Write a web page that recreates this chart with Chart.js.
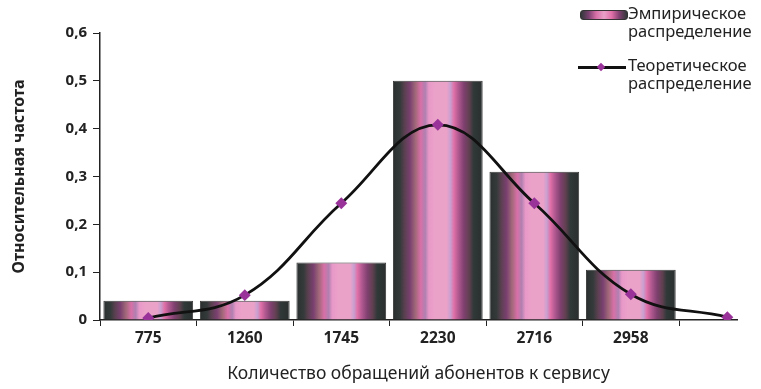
<!DOCTYPE html>
<html>
<head>
<meta charset="utf-8">
<script src="https://cdn.jsdelivr.net/npm/chart.js@4.4.1/dist/chart.umd.min.js"></script>
<style>
  html, body { margin: 0; padding: 0; background: #fff; }
  #wrap { position: relative; width: 761px; height: 389px; }
  #legend { position: absolute; left: 578px; top: 4px; font-family: "Noto Sans", sans-serif; font-size: 16.5px; line-height: 18px; color: #222; }
  .item { position: relative; padding-left: 50px; margin-bottom: 16px; }
  .sw { position: absolute; left: 2px; top: 6px; width: 46px; height: 8px; border: 1px solid #333; border-radius: 3px;
        background: linear-gradient(90deg, #303838, #7a4070, #d870a8, #e8a0c8, #e070a8, #804070, #303838); }
  .ln { position: absolute; left: 0; top: 10px; width: 48px; height: 2.5px; background: #111; }
  .pt { position: absolute; left: 20px; top: 8px; width: 6px; height: 6px; background: #993399; transform: rotate(45deg); }
</style>
</head>
<body>
<div id="wrap">
  <canvas id="chart" width="761" height="389"></canvas>
  <div id="legend">
    <div class="item"><span class="sw"></span>Эмпирическое<br>распределение</div>
    <div class="item"><span class="ln"></span><span class="pt"></span>Теоретическое<br>распределение</div>
  </div>
</div>
<script>
// categories and values
const categories = ['775', '1260', '1745', '2230', '2716', '2958'];
const empirical = [0.04, 0.04, 0.12, 0.5, 0.31, 0.105];
const theoretical = [0.004, 0.052, 0.244, 0.408, 0.244, 0.054, 0.006];
const yTicks = [0, 0.1, 0.2, 0.3, 0.4, 0.5, 0.6];

// stripes across each bar (dark edges, pink middle)
const stripes = [
    [0, '#2a2e2e'], [0.08, '#343a3a'], [0.13, '#5a4050'], [0.19, '#7a4070'],
    [0.25, '#a06878'], [0.31, '#d870a8'], [0.36, '#b080b0'], [0.40, '#e898c8'],
    [0.47, '#eba2c9'], [0.60, '#eba2c9'], [0.64, '#c8a0d0'], [0.68, '#e070a8'],
    [0.73, '#b05890'], [0.79, '#804070'], [0.85, '#604050'], [0.90, '#303838'], [1, '#2a2e2e']
];

const BAR_FRACTION = 0.93;

function barFill(context) {
    const chart = context.chart;
    if (!chart.chartArea) return '#e080b0';
    const xs = chart.scales.x;
    const step = xs.getPixelForValue(1) - xs.getPixelForValue(0);
    const cx = xs.getPixelForValue(context.dataIndex);
    const half = step * BAR_FRACTION / 2;
    const g = chart.ctx.createLinearGradient(cx - half, 0, cx + half, 0);
    stripes.forEach(([p, c]) => g.addColorStop(p, c));
    return g;
}

const fmt = v => v === 0 ? '0' : v.toFixed(1).replace('.', ',');

new Chart(document.getElementById('chart'), {
    type: 'bar',
    data: {
        datasets: [
            {
                type: 'line',
                label: 'Теоретическое распределение',
                data: theoretical.map((v, i) => ({ x: i, y: v })),
                borderColor: '#111',
                borderWidth: 2.8,
                tension: 0.4,
                pointStyle: 'rectRot',
                pointRadius: 4,
                pointBackgroundColor: '#993399',
                pointBorderColor: '#993399',
                order: 0
            },
            {
                label: 'Эмпирическое распределение',
                data: empirical.map((v, i) => ({ x: i, y: v })),
                backgroundColor: barFill,
                borderColor: '#3a3a3a',
                borderWidth: 1,
                // tick marks sit at half steps, so the min spacing the ruler sees is half a category
                barPercentage: BAR_FRACTION * 2,
                categoryPercentage: 1,
                order: 1
            }
        ]
    },
    options: {
        responsive: false,
        animation: false,
        layout: { padding: { top: 33, right: 24, left: 0, bottom: 0 } },
        plugins: { legend: { display: false }, tooltip: { enabled: false } },
        scales: {
            x: {
                type: 'linear',
                offset: false,
                min: -0.5,
                max: 6.1,
                afterBuildTicks: axis => {
                    const t = [];
                    for (let i = 0; i < 6; i++) { t.push({ value: i - 0.5 }); t.push({ value: i }); }
                    t.push({ value: 5.5 });
                    axis.ticks = t;
                },
                afterFit: axis => { axis.height = 69; },
                ticks: {
                    autoSkip: false,
                    maxRotation: 0,
                    padding: 3,
                    color: '#222',
                    font: { family: 'Noto Sans', size: 15.5, weight: 'bold' },
                    callback: v => Number.isInteger(v) ? (categories[v] || '') : ''
                },
                grid: {
                    offset: false,
                    drawOnChartArea: false,
                    tickLength: 6,
                    tickColor: ctx => (ctx.tick && Number.isInteger(ctx.tick.value)) ? 'rgba(0,0,0,0)' : '#222'
                },
                border: { color: '#222', width: 1.5 },
                title: {
                    display: true,
                    text: 'Количество обращений абонентов к сервису',
                    color: '#222',
                    font: { family: 'Noto Sans', size: 17.5 },
                    padding: { top: 5 }
                }
            },
            y: {
                min: 0,
                max: 0.6,
                afterBuildTicks: axis => { axis.ticks = yTicks.map(v => ({ value: v })); },
                afterFit: axis => { axis.width = 100; },
                ticks: {
                    padding: 6,
                    color: '#222',
                    font: { family: 'Noto Sans', size: 15, weight: 'bold' },
                    callback: v => fmt(v)
                },
                grid: { drawOnChartArea: false, tickLength: 7, tickColor: '#222' },
                border: { color: '#222', width: 1.5 },
                title: {
                    display: true,
                    text: 'Относительная частота',
                    color: '#222',
                    font: { family: 'Noto Sans', size: 16, weight: 'bold' },
                    padding: { top: 10, bottom: 0 }
                }
            }
        }
    }
});
</script>
</body>
</html>
